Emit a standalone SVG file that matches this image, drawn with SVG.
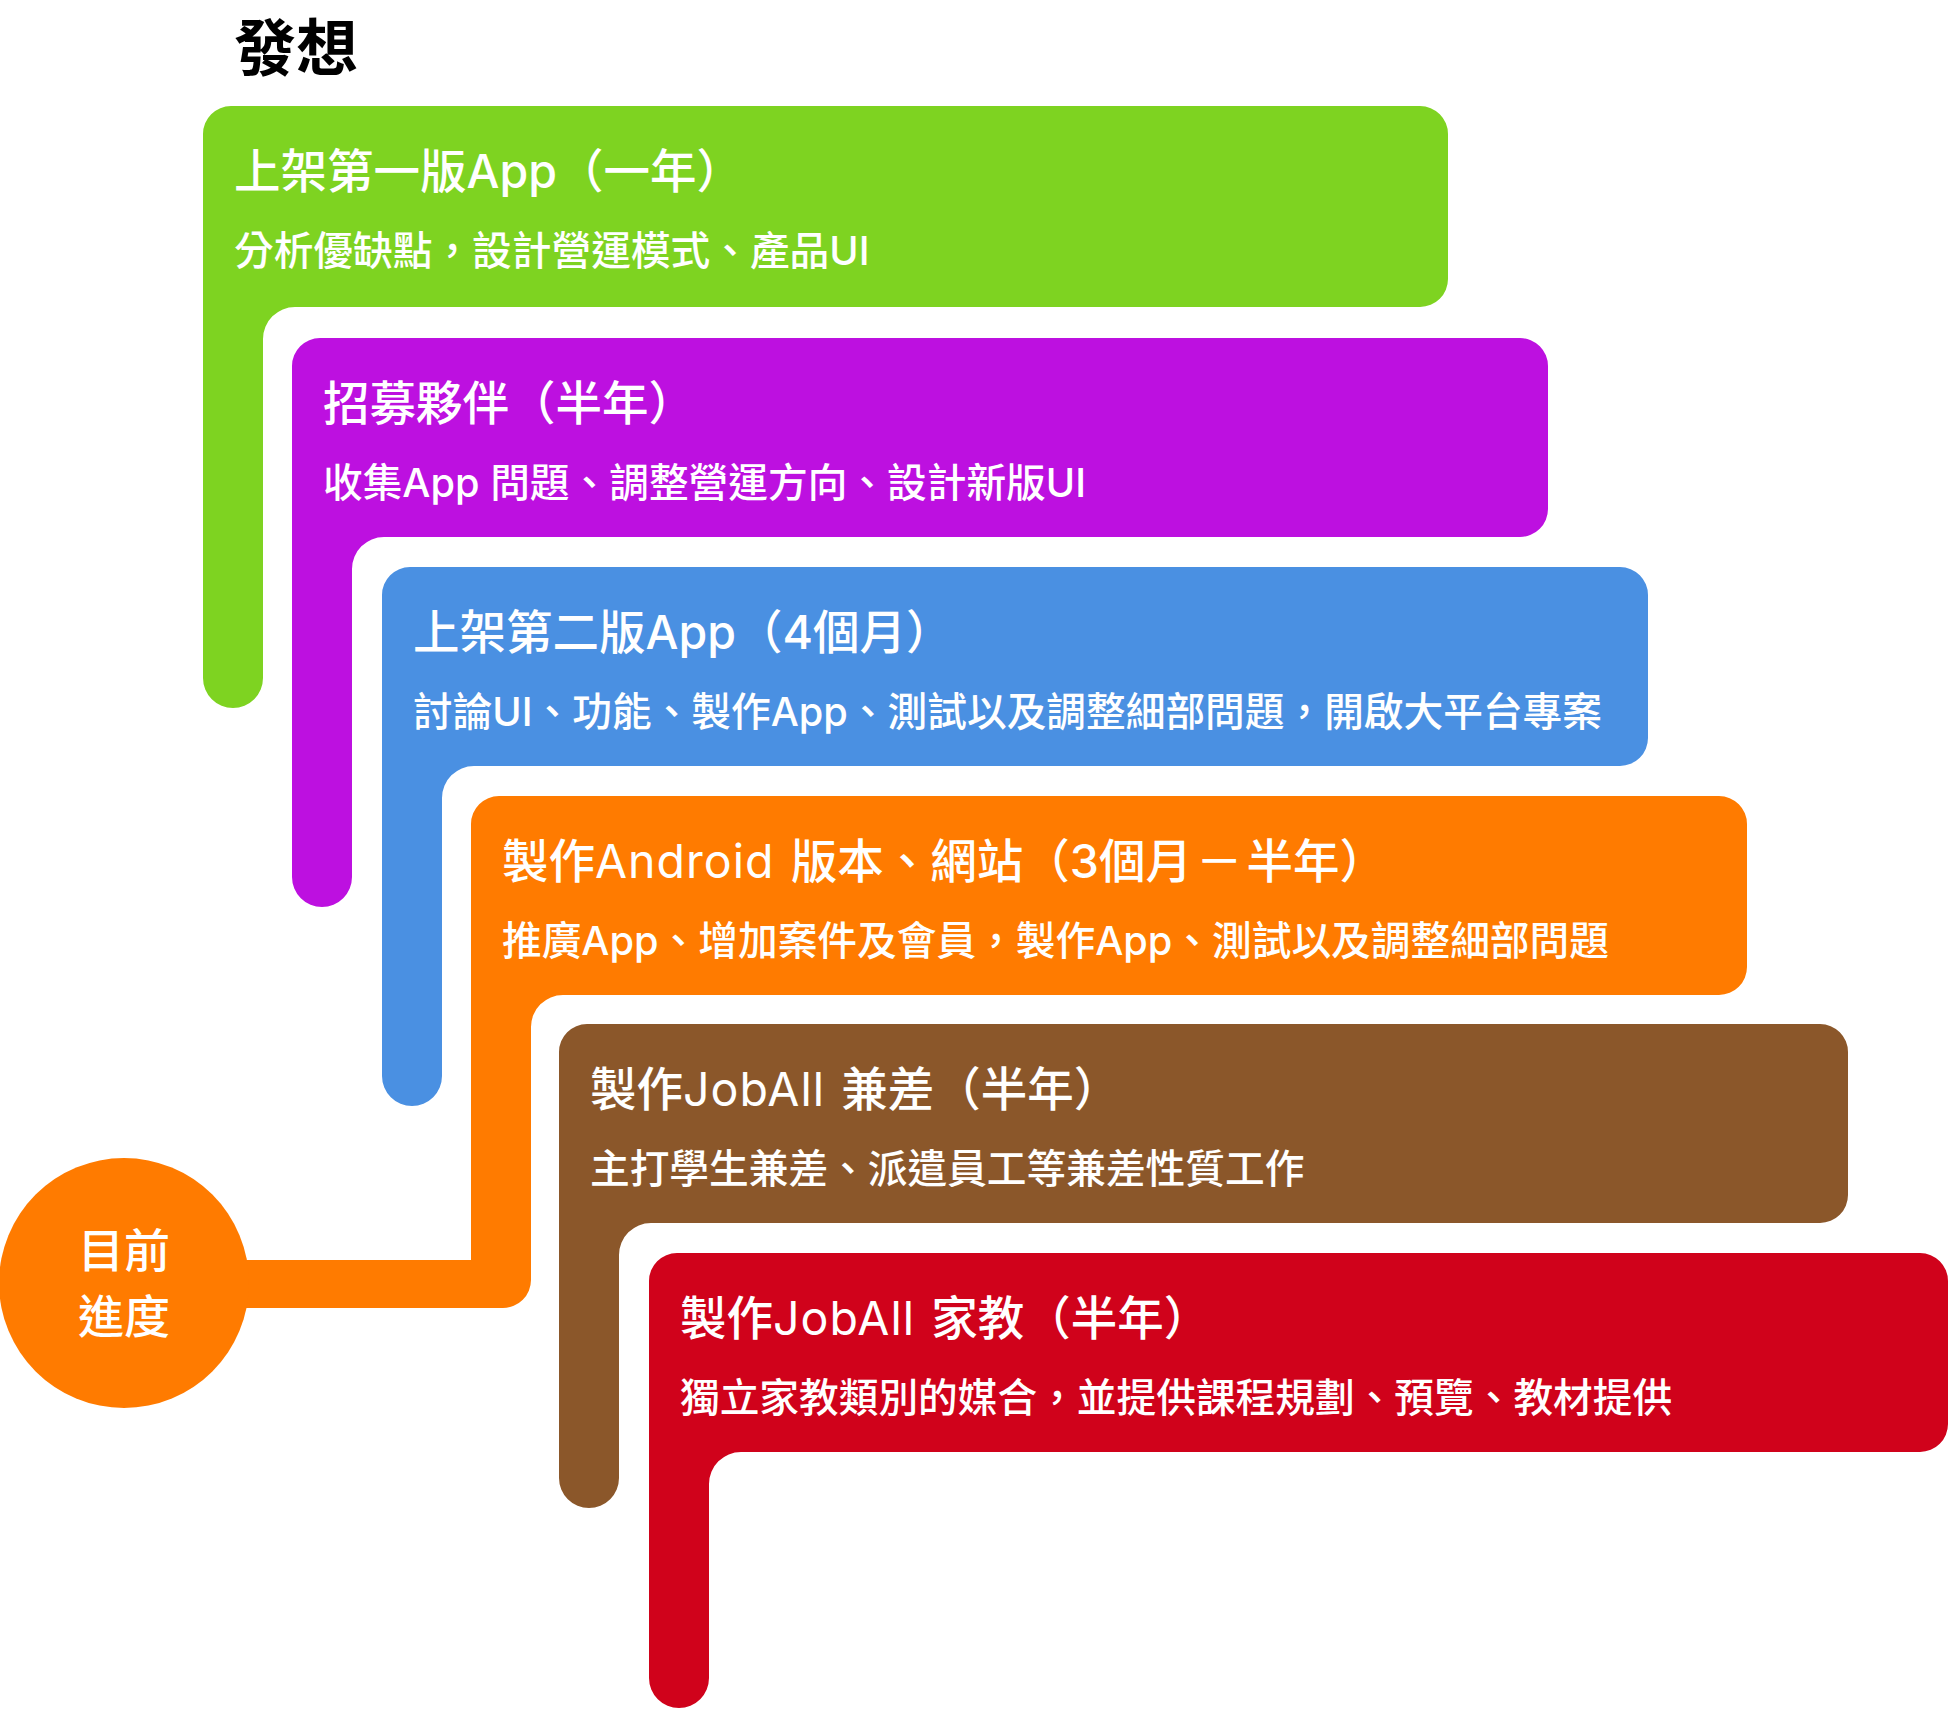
<svg xmlns="http://www.w3.org/2000/svg" width="1949" height="1709" viewBox="0 0 1949 1709">
<style>
.t{font-family:Inter,"Noto Sans CJK TC","Noto Sans CJK SC",sans-serif;fill:#fff;font-weight:500;font-size:46.5px;word-spacing:4px}
.l{font-weight:400;letter-spacing:1px}
.s{font-family:Inter,"Noto Sans CJK TC","Noto Sans CJK SC",sans-serif;fill:#fff;font-weight:500;font-size:39.7px}
.h{font-family:"Noto Sans CJK TC","Noto Sans CJK SC",sans-serif;fill:#000;font-weight:700;font-size:62px}
.c{font-family:"Noto Sans CJK TC","Noto Sans CJK SC",sans-serif;fill:#fff;font-weight:500;font-size:46px}
</style>
<rect width="1949" height="1709" fill="#fff"/>
<text class="h" x="234" y="71">發想</text>

<g id="connectors">
<rect x="124" y="1260" width="350" height="48" fill="#FF7B00"/>
</g>

<g id="node1">
<path fill="#7ED321" d="M203,134 A28,28 0 0 1 231,106 H1420 A28,28 0 0 1 1448,134 V279 A28,28 0 0 1 1420,307 H295 A32,32 0 0 0 263,339 V678 A30,30 0 0 1 203,678 Z"/>
<text class="t" x="234" y="188">上架第一版App（一年）</text>
<text class="s" x="234" y="265">分析優缺點，設計營運模式、產品UI</text>
</g>

<g id="node2">
<path fill="#BD10E0" d="M292,366 A28,28 0 0 1 320,338 H1520 A28,28 0 0 1 1548,366 V509 A28,28 0 0 1 1520,537 H384 A32,32 0 0 0 352,569 V877 A30,30 0 0 1 292,877 Z"/>
<text class="t" x="323" y="420">招募夥伴（半年）</text>
<text class="s" x="323" y="497">收集App 問題、調整營運方向、設計新版UI</text>
</g>

<g id="node3">
<path fill="#4A90E2" d="M382,595 A28,28 0 0 1 410,567 H1620 A28,28 0 0 1 1648,595 V738 A28,28 0 0 1 1620,766 H474 A32,32 0 0 0 442,798 V1076 A30,30 0 0 1 382,1076 Z"/>
<text class="t" x="413" y="649">上架第二版App（4個月）</text>
<text class="s" x="413" y="726">討論UI、功能、製作App、測試以及調整細部問題，開啟大平台專案</text>
</g>

<g id="node4">
<path fill="#FF7B00" d="M471,824 A28,28 0 0 1 499,796 H1719 A28,28 0 0 1 1747,824 V967 A28,28 0 0 1 1719,995 H563 A32,32 0 0 0 531,1027 V1280 A28,28 0 0 1 503,1308 H471 Z"/>
<text class="t" x="502" y="878">製作<tspan class="l">Android</tspan> 版本、網站（3個月<tspan dx="4">－</tspan><tspan dx="4">半年）</tspan></text>
<text class="s" x="502" y="955">推廣App、增加案件及會員，製作App、測試以及調整細部問題</text>
</g>

<g id="node5">
<path fill="#8B572A" d="M559,1052 A28,28 0 0 1 587,1024 H1820 A28,28 0 0 1 1848,1052 V1195 A28,28 0 0 1 1820,1223 H651 A32,32 0 0 0 619,1255 V1478 A30,30 0 0 1 559,1478 Z"/>
<text class="t" x="590" y="1106">製作<tspan class="l">JobAll</tspan> 兼差（半年）</text>
<text class="s" x="590" y="1183">主打學生兼差、派遣員工等兼差性質工作</text>
</g>

<g id="node6">
<path fill="#D0021B" d="M649,1281 A28,28 0 0 1 677,1253 H1920 A28,28 0 0 1 1948,1281 V1424 A28,28 0 0 1 1920,1452 H741 A32,32 0 0 0 709,1484 V1678 A30,30 0 0 1 649,1678 Z"/>
<text class="t" x="680" y="1335">製作<tspan class="l">JobAll</tspan> 家教（半年）</text>
<text class="s" x="680" y="1412">獨立家教類別的媒合，並提供課程規劃、預覽、教材提供</text>
</g>

<g id="current">
<circle cx="124" cy="1283" r="125" fill="#FF7B00"/>
<text class="c" x="124" y="1267" text-anchor="middle">目前</text>
<text class="c" x="124" y="1333" text-anchor="middle">進度</text>
</g>
</svg>
